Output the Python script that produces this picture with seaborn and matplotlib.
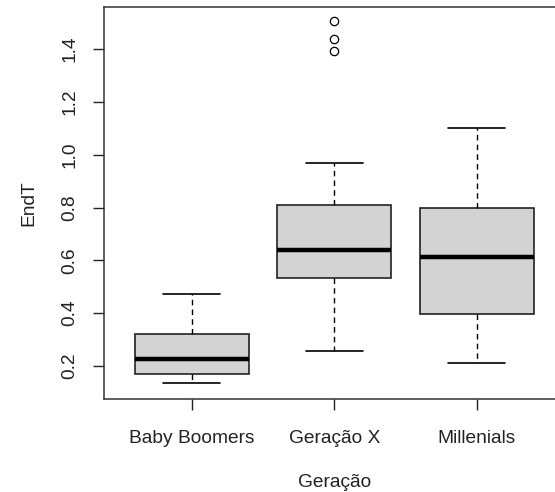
import matplotlib
matplotlib.use("Agg")
import matplotlib.pyplot as plt
import seaborn as sns

sns.set_style("white")
plt.rcParams['font.family'] = ['Liberation Sans', 'DejaVu Sans']

# Data (five-number summaries + outliers)
categories = ["Baby Boomers", "Geração X", "Millenials"]
whisker_low = [0.136, 0.257, 0.211]
q1 = [0.170, 0.533, 0.397]
median = [0.226, 0.639, 0.612]
q3 = [0.321, 0.809, 0.800]
whisker_high = [0.472, 0.967, 1.100]
outliers = [[], [1.392, 1.439, 1.505], []]
y_ticks = [0.2, 0.4, 0.6, 0.8, 1.0, 1.2, 1.4]

stats = []
for i, name in enumerate(categories):
    stats.append(dict(label=name, whislo=whisker_low[i], q1=q1[i], med=median[i],
                      q3=q3[i], whishi=whisker_high[i], fliers=outliers[i]))

fig = plt.figure(figsize=(5.55, 4.92), dpi=100)
ax = fig.add_axes([0.1866, 0.189, 0.832, 0.797])

ax.bxp(stats, positions=[1, 2, 3], widths=0.8, capwidths=0.4, patch_artist=True,
       boxprops=dict(facecolor="#D3D3D3", edgecolor="#222222", linewidth=1.2),
       medianprops=dict(color="black", linewidth=3.2, solid_capstyle="butt"),
       whiskerprops=dict(color="black", linewidth=1.0, linestyle=(0, (4, 3))),
       capprops=dict(color="black", linewidth=1.2),
       flierprops=dict(marker="o", markerfacecolor="none", markeredgecolor="black",
                       markersize=6, markeredgewidth=0.9))

ax.set_xlim(0.38, 3.62)
ax.set_ylim(0.075, 1.56)
ax.set_yticks(y_ticks)
ax.set_yticklabels([f"{v:.1f}" for v in y_ticks], rotation=90, va="center")
ax.set_xticks([1, 2, 3])
ax.set_xticklabels(categories)

for s in ax.spines.values():
    s.set_visible(True)
    s.set_color("#333333")
    s.set_linewidth(1.1)

ax.tick_params(axis="both", which="both", direction="out", length=8, width=1.0,
               color="#222222", labelsize=13.8, labelcolor="#222222",
               left=True, bottom=True)
ax.tick_params(axis="y", pad=10)
ax.tick_params(axis="x", pad=14)

ax.set_xlabel("Geração", fontsize=13.8, color="#222222", labelpad=20)
ax.set_ylabel("EndT", fontsize=13.8, color="#222222", labelpad=17.5)
ax.grid(False)

fig.savefig("out.png", dpi=100)
